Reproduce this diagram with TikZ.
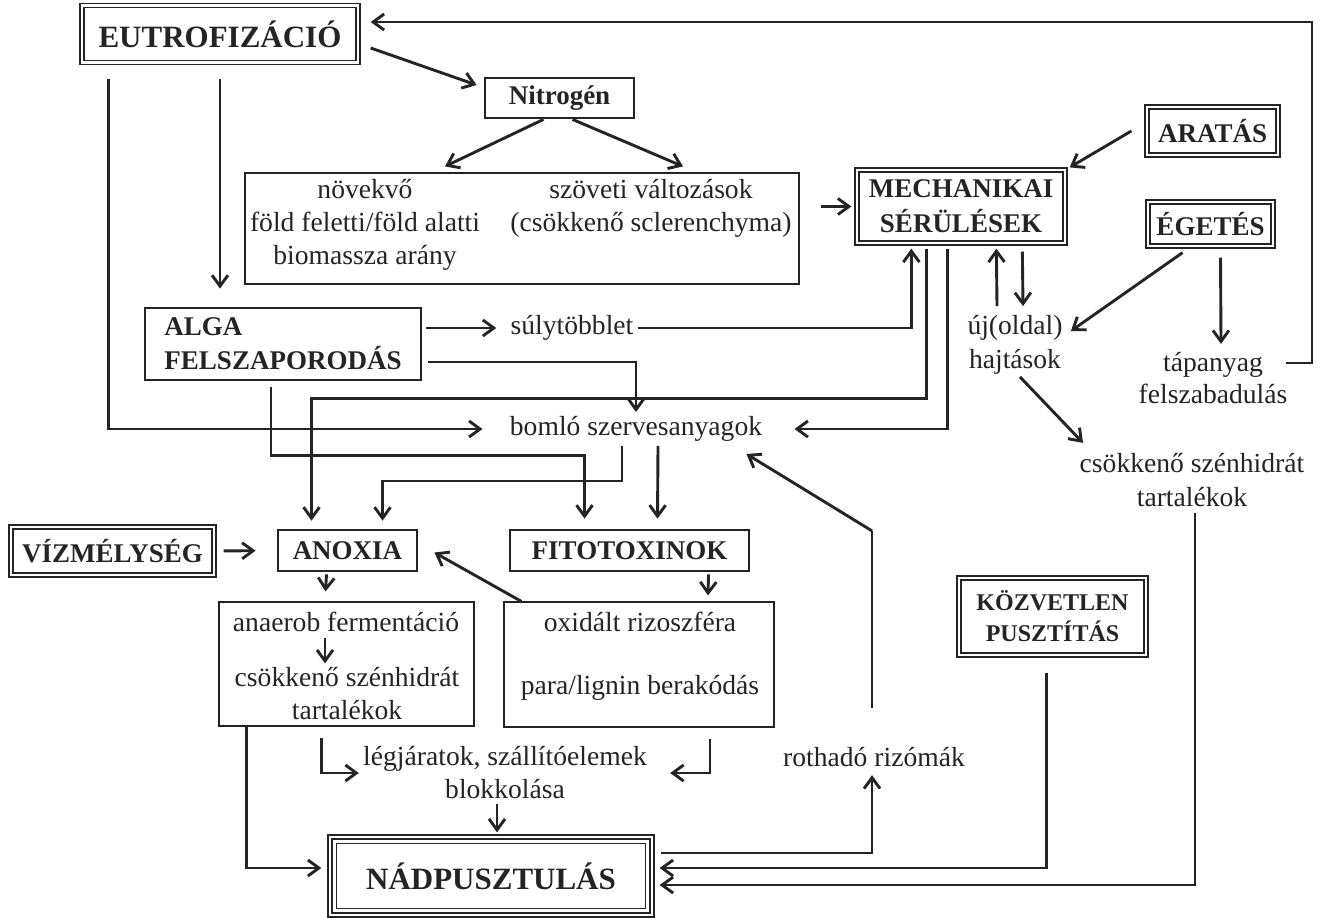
\documentclass[tikz,border=0pt]{standalone}
\usepackage{fontspec}
\setmainfont{Liberation Serif}
\usetikzlibrary{positioning,arrows.meta,calc}
\definecolor{ink}{gray}{0.14}
\tikzset{
  txt/.style={
    align=center, inner sep=2pt, text=ink,
    font=\fontsize{13.8}{16.5}\selectfont
  },
  dblbox/.style={
    draw=ink, double, line width=0.65pt, double distance=1.4pt,
    inner sep=0pt, align=center, text=ink,
    font=\bfseries\fontsize{13.5}{17.5}\selectfont
  },
  thickbox/.style={
    draw=ink, line width=1.4pt, inner sep=0pt,
    align=center, text=ink,
    font=\bfseries\fontsize{13.5}{17}\selectfont
  },
  panel/.style={draw=ink, line width=0.6pt, inner sep=0pt},
  arrow/.style={-{Straight Barb[length=5.5pt,width=8pt]}, line width=1.45pt, draw=ink},
  wire/.style={line width=1.45pt, draw=ink}
}

\begin{document}
\begin{tikzpicture}[x=0.5pt, y=-0.5pt]
  \path[fill=white, use as bounding box] (0,0) rectangle (1320,917);

  % upper part
  \node[dblbox, minimum width=138pt, minimum height=28.5pt,
        font=\bfseries\fontsize{15.5}{18}\selectfont] (eutro) at (220,34) {EUTROFIZÁCIÓ};
  \node[thickbox, minimum width=74.5pt, minimum height=20pt] (nitro) at (559.5,98) {Nitrogén};
  \node[panel, minimum width=277pt, minimum height=55.5pt] (biobox) at (522,228.5) {};
  \node[txt] (nov) at (365,225) {növekvő\\föld feletti/föld alatti\\biomassza arány};
  \node[txt] (szov) at (651,208) {szöveti változások\\(csökkenő sclerenchyma)};
  \node[dblbox, minimum width=104pt, minimum height=36.5pt] (mech) at (961,206.5) {MECHANIKAI\\SÉRÜLÉSEK};
  \node[dblbox, minimum width=65.5pt, minimum height=24pt] (aratas) at (1212.5,131) {ARATÁS};
  \node[dblbox, minimum width=62.5pt, minimum height=22pt] (egetes) at (1210.5,224) {ÉGETÉS};
  \node[txt, font=\fontsize{13.8}{17}\selectfont] (uj) at (1015,345) {új(oldal)\\hajtások};
  \node[txt, font=\fontsize{13.8}{16}\selectfont] (tap) at (1213,378) {tápanyag\\felszabadulás};
  \node[txt, font=\fontsize{13.8}{17}\selectfont] (csok) at (1192,480) {csökkenő szénhidrát\\tartalékok};

  % middle part
  \node[thickbox, align=left, minimum width=138pt, minimum height=36pt] (alga) at (283,344) {ALGA\\FELSZAPORODÁS};
  \node[txt] (sulyt) at (572,328) {súlytöbblet};
  \node[txt] (bomlo) at (636,429) {bomló szervesanyagok};
  \node[dblbox, minimum width=101.5pt, minimum height=24pt] (vizm) at (112.5,551) {VÍZMÉLYSÉG};
  \node[thickbox, minimum width=69.5pt, minimum height=20.5pt] (anox) at (347.5,550.5) {ANOXIA};
  \node[thickbox, minimum width=119.5pt, minimum height=20.5pt] (fito) at (629.5,550.5) {FITOTOXINOK};

  % lower part
  \node[panel, minimum width=127.5pt, minimum height=62pt] (lbox) at (346.5,664) {};
  \node[txt] (anaer) at (346,622) {anaerob fermentáció};
  \node[txt] (csok2) at (347,694) {csökkenő szénhidrát\\tartalékok};
  \node[panel, minimum width=135pt, minimum height=62.5pt] (rbox) at (639,664.5) {};
  \node[txt] (oxid) at (640,622) {oxidált rizoszféra};
  \node[txt] (para) at (640,688) {para/lignin berakódás};
  \node[txt] (legj) at (505,773) {légjáratok, szállítóelemek\\blokkolása};
  \node[txt] (rothad) at (874,757) {rothadó rizómák};
  \node[dblbox, minimum width=93.5pt, minimum height=38.5pt,
        font=\bfseries\fontsize{12}{15.5}\selectfont] (kozv) at (1052.5,616.5) {KÖZVETLEN\\PUSZTÍTÁS};
  \node[dblbox, minimum width=161pt, minimum height=39pt,
        font=\bfseries\fontsize{15.5}{18}\selectfont] (nad) at (491,876) {NÁDPUSZTULÁS};
  \draw[line width=0.65pt, ink] ($(nad.north west)+(7,7)$) rectangle ($(nad.south east)+(-7,-7)$);

  \coordinate (topright) at (1312,22);

  % connectors
  \draw[arrow, shorten >=6pt] ($(tap.east)+(-6,-15)$) -| (topright) -- (topright -| eutro.east);
  \draw[arrow] ($(eutro.east)+(12,14)$) -- ($(nitro.west)+(-7,-13)$);
  \draw[arrow] ($(nitro.south)+(-16,0)$) -- ($(biobox.north)+(-77,-6)$);
  \draw[arrow] ($(nitro.south)+(13,0)$) -- ($(biobox.north)+(161,-6)$);
  \draw[arrow, shorten <=10.5pt, shorten >=2.5pt] (biobox.east |- mech.west) -- (mech.west);
  \draw[arrow] ($(aratas.west)+(-15,0)$) -- ($(mech.north east)+(4,-2)$);
  \draw[arrow] ($(egetes.south)+(-28,6)$) -- ($(uj.east)+(4,-14)$);
  \draw[arrow] ($(egetes.south)+(10,11)$) -- ($(tap.north)+(8,-4)$);
  \draw[arrow] ($(uj.north)+(-18,-5)$) -- ($(mech.south west)+(140,5)$);
  \draw[arrow] ($(mech.south west)+(166,8)$) -- ($(uj.north)+(8,-5)$);
  \draw[arrow] ($(uj.south)+(5,-2)$) -- ($(csok.north)+(-109,-6)$);

  \draw[arrow, shorten >=11.5pt] ($(eutro.south west)+(27,16)$) |- (bomlo.west);
  \draw[arrow, shorten <=8pt, shorten >=9pt] (eutro.south) -- (eutro.south |- alga.north);
  \draw[arrow, shorten <=2pt, shorten >=5pt] (alga.east |- sulyt.west) -- (sulyt.west);
  \draw[arrow, shorten >=2.5pt] (sulyt.east) -| ($(mech.south west)+(55,0)$);
  \draw[arrow] ($(alga.east)+(6,18)$) -| (bomlo.north);
  \draw[arrow] ($(mech.south west)+(70,5)$) -- ++(0,150) -| ($(anox.north)+(-36,-8)$);
  \draw[arrow, shorten >=14pt] ($(mech.south west)+(91,5)$) |- (bomlo.east);
  \draw[arrow] ($(bomlo.south)+(22,0)$) -- ($(fito.north)+(28,-10)$);
  \draw[arrow] ($(bomlo.south)+(-14,0)$) -- ++(0,35) -| ($(anox.north)+(35,-8)$);
  \draw[arrow] ($(alga.south)+(-12,6)$) -- ++(0,68) -| ($(fito.north)+(-45,-10)$);
  \draw[arrow, shorten <=4.5pt, shorten >=10.5pt] (vizm.east) -- (anox.west);

  \draw[arrow] ($(anox.south)+(-21,2)$) -- ($(lbox.north)+(-21,-10)$);
  \draw[arrow] ($(fito.south)+(79,2)$) -- ($(rbox.north)+(69,-6)$);
  \draw[arrow] ($(rbox.north west)+(18,0)$) -- ($(anox.east)+(16,2)$);
  \draw[arrow] ($(anaer.south)+(-21,2)$) -- ($(csok2.north)+(-22,0)$);
  \draw[arrow] ($(lbox.south)+(-25,11)$) |- (legj.west);
  \draw[arrow, shorten >=9.5pt] ($(rbox.south)+(71,11)$) |- (legj.east);
  \draw[arrow] ($(legj.south)+(-8,0)$) -- ($(nad.north)+(6,-4)$);
  \draw[arrow] ($(lbox.south west)+(28,0)$) |- ($(nad.west)+(-8,-8)$);

  \draw[arrow] ($(nad.east)+(8,-23)$) -| ($(rothad.south)+(-2,4)$);
  \draw[wire] ($(rothad.north)+(-2,-35)$) -- ++(0,-177) edge[arrow] ($(bomlo.east)+(-20,25)$);
  \draw[arrow] ($(kozv.south)+(-6,17)$) |- ($(nad.east)+(7,-8)$);
  \draw[arrow] ($(csok.south)+(3,2)$) |- ($(nad.east)+(7,9)$);
\end{tikzpicture}
\end{document}
